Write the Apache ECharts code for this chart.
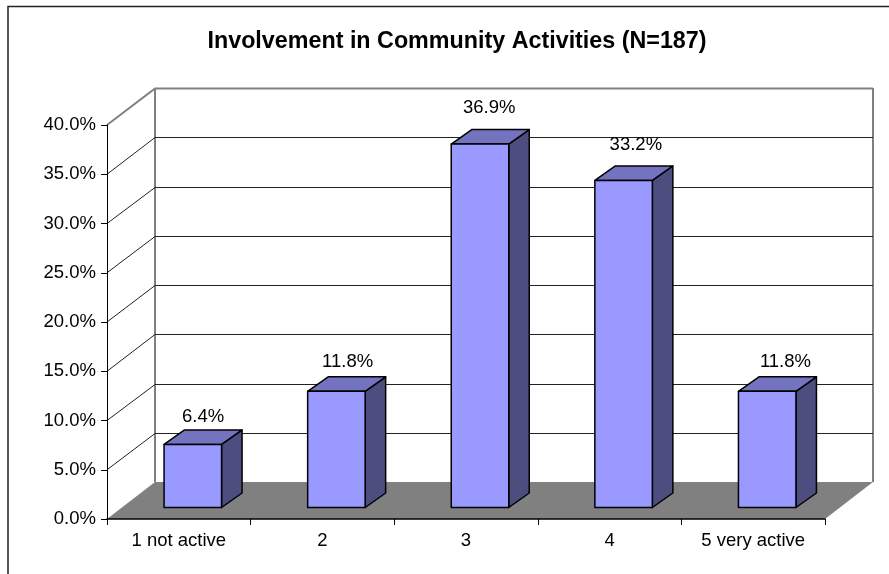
<!DOCTYPE html>
<html><head><meta charset="utf-8">
<style>html,body{margin:0;padding:0;background:#fff}#c{width:889px;height:574px}</style>
<script src="https://cdn.jsdelivr.net/npm/echarts@6/dist/echarts.min.js"></script>
</head><body><div id="c"></div>
<script>
const categories = ['1 not active', '2', '3', '4', '5 very active'];
const percentValues = [6.4, 11.8, 36.9, 33.2, 11.8];
const wallTicks = [0, 5, 10, 15, 20, 25, 30, 35, 40];
const titleText = 'Involvement in Community Activities (N=187)';

const FONT = '"Liberation Sans", Arial, sans-serif';
const WALL_DX = 48, WALL_DY = 37;       // floor depth
const BAR_OFF_DX = 14, BAR_OFF_DY = 11.5; // bar placement inside the floor
const BAR_DX = 20.5, BAR_DY = 14.5;     // bar depth
const BAR_W = 57.5;
const LABEL_SHIFT = [-4, -3, -5, -2, 4]; // reference's label drift per bar

const chart = echarts.init(document.getElementById('c'), null, {renderer: 'canvas'});

function wallItem(params, api) {
  const v = api.value(1);
  const cs = params.coordSys;
  const x0 = cs.x, x1 = cs.x + cs.width;
  const y = api.coord([0, v])[1];
  const top = api.coord([0, 40])[1];
  const bottom = api.coord([0, 0])[1];
  const children = [];
  if (v === 0) {
    children.push({type: 'polygon', shape: {points: [
      [x0, bottom], [x0 + WALL_DX, bottom - WALL_DY], [x1 + WALL_DX, bottom - WALL_DY], [x1, bottom]
    ]}, style: {fill: '#808080', stroke: 'none'}});
    children.push({type: 'line', shape: {x1: x0 + WALL_DX, y1: top - WALL_DY, x2: x0 + WALL_DX, y2: bottom - WALL_DY},
      style: {stroke: '#808080', lineWidth: 2}});
    children.push({type: 'line', shape: {x1: x1 + WALL_DX, y1: top - WALL_DY, x2: x1 + WALL_DX, y2: bottom - WALL_DY},
      style: {stroke: '#808080', lineWidth: 2}});
  } else {
    const isTop = v === 40;
    const stroke = isTop ? '#808080' : '#222';
    const lw = isTop ? 2 : 1;
    const by = Math.round(y - WALL_DY) + 0.5;
    children.push({type: 'polyline', shape: {points: [[x0, y], [x0 + WALL_DX, by], [x1 + WALL_DX, by]]},
      style: {stroke, lineWidth: lw, fill: 'none'}});
  }
  return {type: 'group', children};
}

function barItem(params, api) {
  const i = api.value(0), v = api.value(1);
  const c = api.coord([i, v]);
  const base = api.coord([i, 0]);
  const l = c[0] - BAR_W / 2 + BAR_OFF_DX, r = l + BAR_W;
  const t = c[1] - BAR_OFF_DY, b = base[1] - BAR_OFF_DY;
  const line = {stroke: '#000', lineWidth: 1.5, lineJoin: 'round'};
  return {type: 'group', children: [
    {type: 'polygon', shape: {points: [[r, t], [r + BAR_DX, t - BAR_DY], [r + BAR_DX, b - BAR_DY], [r, b]]},
      style: Object.assign({fill: '#4D4D80'}, line)},
    {type: 'polygon', shape: {points: [[l, t], [l + BAR_DX, t - BAR_DY], [r + BAR_DX, t - BAR_DY], [r, t]]},
      style: Object.assign({fill: '#7373BF'}, line)},
    {type: 'rect', shape: {x: l, y: t, width: BAR_W, height: b - t},
      style: Object.assign({fill: '#9999FF'}, line)},
    {type: 'text', style: {
      text: v.toFixed(1) + '%',
      x: c[0] + BAR_OFF_DX + BAR_DX / 2 + LABEL_SHIFT[i] + 4,
      y: t - 25.5 - 0.3 * v,
      textAlign: 'center', textVerticalAlign: 'middle',
      fill: '#000', fontSize: 18.5, fontFamily: FONT
    }}
  ]};
}

chart.setOption({
  animation: false,
  backgroundColor: '#fff',
  title: {
    text: titleText, left: 452, top: 25, textAlign: 'center',
    textStyle: {fontFamily: FONT, fontSize: 23.3, fontWeight: 'bold', color: '#000'}
  },
  grid: {left: 107, right: 64, top: 125, bottom: 55},
  xAxis: {
    type: 'category', data: categories, z: 5,
    axisLine: {lineStyle: {color: '#000', width: 1.5}},
    axisTick: {show: true, length: 6, lineStyle: {color: '#000', width: 1}},
    axisLabel: {color: '#000', fontFamily: FONT, fontSize: 18.5, margin: 12},
    splitLine: {show: false}
  },
  yAxis: {
    type: 'value', min: 0, max: 40, interval: 5, z: 5,
    axisLine: {show: true, lineStyle: {color: '#000', width: 1}},
    axisTick: {show: true, length: 6, lineStyle: {color: '#000', width: 1}},
    axisLabel: {color: '#000', fontFamily: FONT, fontSize: 18.5, margin: 11,
      formatter: v => v.toFixed(1) + '%'},
    splitLine: {show: false}
  },
  series: [
    {type: 'custom', name: 'walls', z: 1, silent: true, clip: false,
     encode: {x: 0, y: 1}, data: wallTicks.map(v => [0, v]), renderItem: wallItem},
    {type: 'custom', name: 'Involvement', z: 3, silent: true, clip: false,
     encode: {x: 0, y: 1}, data: percentValues.map((v, i) => [i, v]), renderItem: barItem}
  ],
  graphic: [{type: 'polyline', silent: true,
    shape: {points: [[8, 574], [8, 6.5], [889, 6.5]]},
    style: {stroke: '#222', lineWidth: 1.5, fill: 'none'}}]
});
</script></body></html>
